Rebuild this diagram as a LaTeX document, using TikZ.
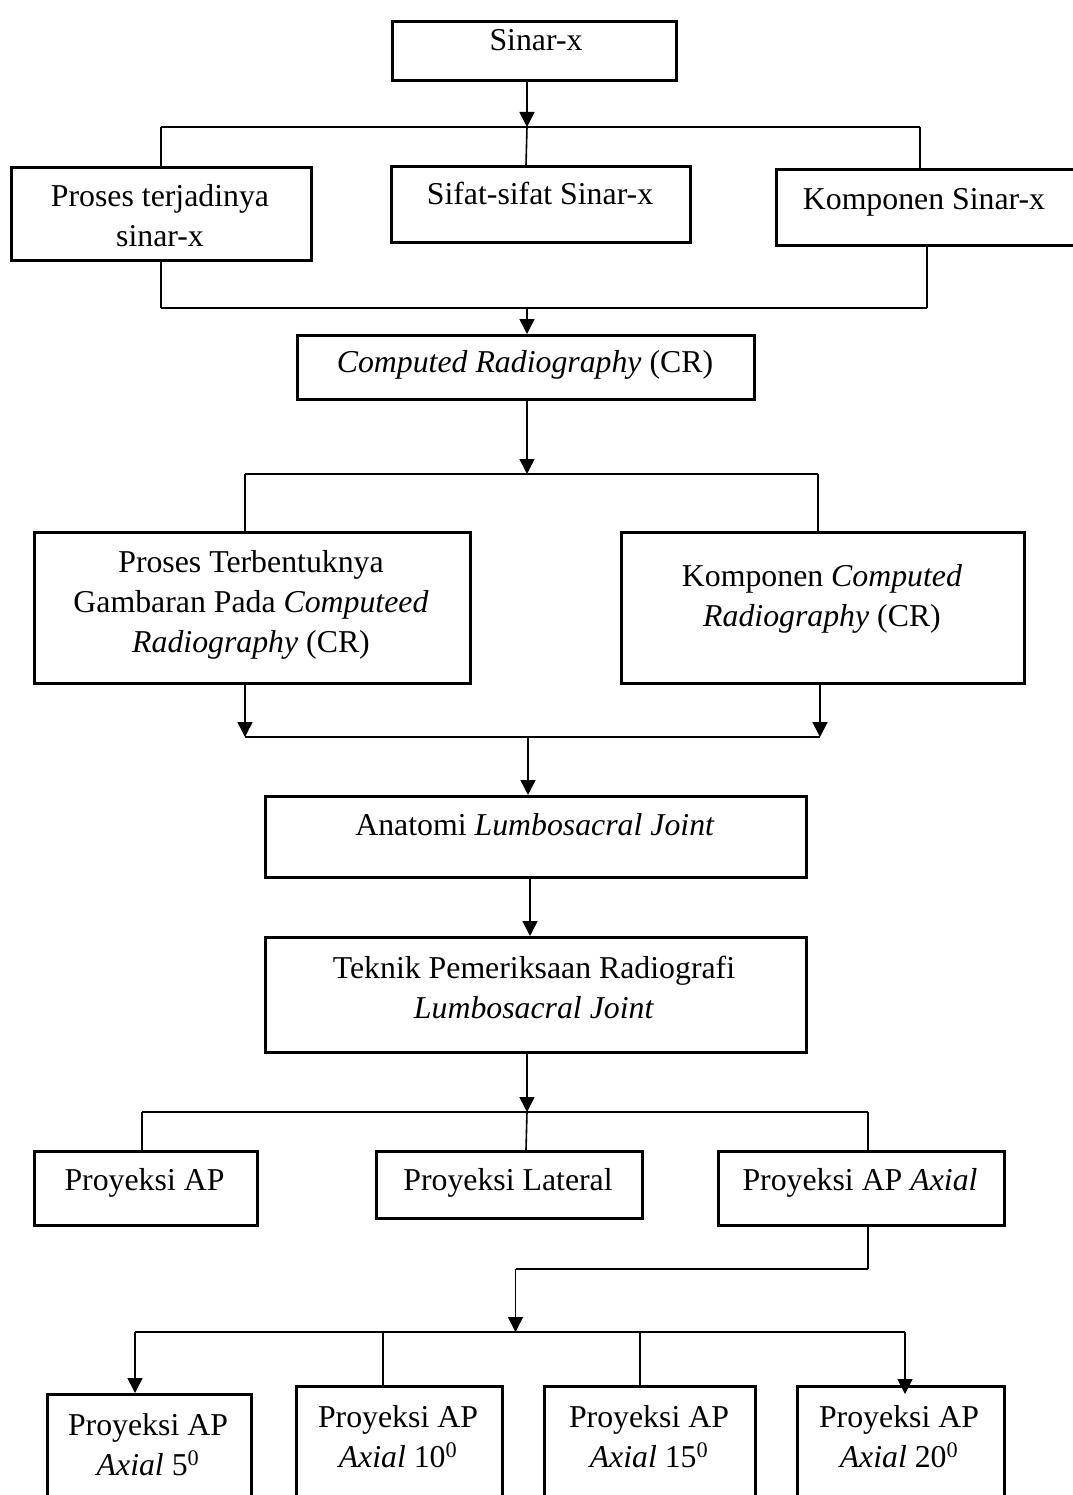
\documentclass[tikz,border=0pt]{standalone}
\usepackage{fontspec}
\setmainfont{Liberation Serif}
\usetikzlibrary{arrows.meta}
\begin{document}
\begin{tikzpicture}[x=1pt,y=-1pt,
  box/.style={draw, line width=2.6pt, inner sep=0pt, anchor=north west},
  txt/.style={font=\fontsize{31.8}{40}\selectfont, anchor=base, inner sep=0pt},
  conn/.style={line width=1.6pt},
  bus/.style={line width=2.8pt},
  arr/.style={line width=1.6pt, -{Triangle[length=15pt,width=15pt]}}]
\useasboundingbox (0,0) rectangle (1072,1495);
% boxes
\node[box, minimum width=284pt, minimum height=59pt] (sinar) at (391,20) {};
\node[box, minimum width=300pt, minimum height=93pt] (proses) at (10,166) {};
\node[box, minimum width=299pt, minimum height=76pt] (sifat) at (390,165) {};
\node[box, minimum width=310pt, minimum height=76pt] (komp) at (775,168) {};
\node[box, minimum width=457pt, minimum height=64pt] (cr) at (296,334) {};
\node[box, minimum width=436pt, minimum height=151pt] (ptb) at (33,531) {};
\node[box, minimum width=403pt, minimum height=151pt] (kcr) at (620,531) {};
\node[box, minimum width=541pt, minimum height=81pt] (anat) at (264,795) {};
\node[box, minimum width=541pt, minimum height=115pt] (tek) at (264,936) {};
\node[box, minimum width=223pt, minimum height=74pt] (pap) at (33,1150) {};
\node[box, minimum width=266pt, minimum height=67pt] (plat) at (375,1150) {};
\node[box, minimum width=286pt, minimum height=74pt] (pax) at (717,1150) {};
\node[box, minimum width=204pt, minimum height=130pt] (a5) at (46,1393) {};
\node[box, minimum width=206pt, minimum height=130pt] (a10) at (295,1385) {};
\node[box, minimum width=211pt, minimum height=130pt] (a15) at (543,1385) {};
\node[box, minimum width=207pt, minimum height=130pt] (a20) at (796,1385) {};
% texts
\node[txt] (t1) at (536,51) {Sinar-x};
\node[txt] (t2a) at (160,207) {Proses terjadinya};
\node[txt] (t2b) at (160,247) {sinar-x};
\node[txt] (t3) at (540,205) {Sifat-sifat Sinar-x};
\node[txt] (t4) at (924,210) {Komponen Sinar-x};
\node[txt] (t5) at (525,372) {\textit{Computed Radiography} (CR)};
\node[txt] (t6a) at (251,572) {Proses Terbentuknya};
\node[txt] (t6b) at (251,612) {Gambaran Pada \textit{Computeed}};
\node[txt] (t6c) at (251,652) {\textit{Radiography} (CR)};
\node[txt] (t7a) at (822,586) {Komponen \textit{Computed}};
\node[txt] (t7b) at (822,626) {\textit{Radiography} (CR)};
\node[txt] (t8) at (535,835) {Anatomi \textit{Lumbosacral Joint}};
\node[txt] (t9a) at (534,978) {Teknik Pemeriksaan Radiografi};
\node[txt] (t9b) at (534,1018) {\textit{Lumbosacral Joint}};
\node[txt] (t10) at (144.5,1190) {Proyeksi AP};
\node[txt] (t11) at (508,1190) {Proyeksi Lateral};
\node[txt] (t12) at (860,1190) {Proyeksi AP \textit{Axial}};
\node[txt] (t13a) at (148,1435) {Proyeksi AP};
\node[txt] (t13b) at (148,1475) {\textit{Axial} 5\textsuperscript{0}};
\node[txt] (t14a) at (398,1427) {Proyeksi AP};
\node[txt] (t14b) at (398,1467) {\textit{Axial} 10\textsuperscript{0}};
\node[txt] (t15a) at (649,1427) {Proyeksi AP};
\node[txt] (t15b) at (649,1467) {\textit{Axial} 15\textsuperscript{0}};
\node[txt] (t16a) at (899,1427) {Proyeksi AP};
\node[txt] (t16b) at (899,1467) {\textit{Axial} 20\textsuperscript{0}};
% junction coordinates
\coordinate (j1) at (527,127);
\coordinate (b1l) at (161,127);
\coordinate (b1r) at (920,127);
\coordinate (m1) at (526,0);
\coordinate (b2l) at (161,308);
\coordinate (b2r) at (927,308);
\coordinate (j2) at (527,308);
\coordinate (j3) at (527,474);
\coordinate (b3l) at (245,474);
\coordinate (b3r) at (818,474);
\coordinate (b4l) at (245,737);
\coordinate (b4r) at (820,737);
\coordinate (j4) at (528,737);
\coordinate (m5) at (530,0);
\coordinate (j5) at (527,1112);
\coordinate (b5l) at (142,1112);
\coordinate (b5r) at (868,1112);
\coordinate (m6) at (526,0);
\coordinate (k1) at (868,1269);
\coordinate (k2) at (515.5,1269);
\coordinate (j6) at (515.5,1332);
\coordinate (b6l) at (135,1332);
\coordinate (b6r) at (905,1332);
\coordinate (c10) at (383,1332);
\coordinate (c15) at (640,1332);
% connectors
\draw[arr] (j1 |- sinar.south) -- (j1);
\draw[bus] (b1l) -- (b1r);
\draw[conn] (b1l) -- (b1l |- proses.north);
\draw[conn] (j1) -- (m1 |- sifat.north);
\draw[conn] (b1r) -- (b1r |- komp.north);
\draw[conn] (b2l |- proses.south) -- (b2l);
\draw[conn] (b2r |- komp.south) -- (b2r);
\draw[bus] (b2l) -- (b2r);
\draw[arr] (j2) -- (j2 |- cr.north);
\draw[arr] (j3 |- cr.south) -- (j3);
\draw[bus] (b3l) -- (b3r);
\draw[conn] (b3l) -- (b3l |- ptb.north);
\draw[conn] (b3r) -- (b3r |- kcr.north);
\draw[arr] (b4l |- ptb.south) -- (b4l);
\draw[arr] (b4r |- kcr.south) -- (b4r);
\draw[bus] (b4l) -- (b4r);
\draw[arr] (j4) -- (j4 |- anat.north);
\draw[arr] (m5 |- anat.south) -- (m5 |- tek.north);
\draw[arr] (j5 |- tek.south) -- (j5);
\draw[bus] (b5l) -- (b5r);
\draw[conn] (b5l) -- (b5l |- pap.north);
\draw[conn] (j5) -- (m6 |- plat.north);
\draw[conn] (b5r) -- (b5r |- pax.north);
\draw[conn] (k1 |- pax.south) -- (k1);
\draw[bus] (k1) -- (k2);
\draw[arr] (k2) -- (j6);
\draw[bus] (b6l) -- (b6r);
\draw[arr] (b6l) -- (b6l |- a5.north);
\draw[conn] (c10) -- (c10 |- a10.north);
\draw[conn] (c15) -- (c15 |- a15.north);
\draw[arr] (b6r) -- ([yshift=-9pt]b6r |- a20.north);
\end{tikzpicture}
\end{document}
